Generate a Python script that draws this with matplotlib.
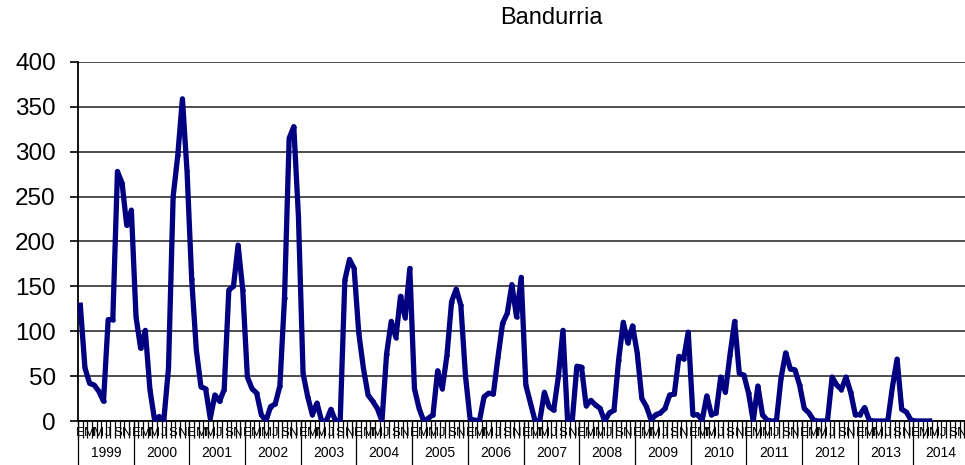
import numpy as np
import matplotlib
matplotlib.use('Agg')
import matplotlib.pyplot as plt
import matplotlib.transforms as mtransforms

plt.rcParams['font.family'] = ['Liberation Sans', 'DejaVu Sans']

years = list(range(1999, 2015))
month_letters = ['E', 'F', 'M', 'A', 'M', 'J', 'J', 'A', 'S', 'O', 'N', 'D']

# monthly counts
y1999 = [129, 59, 42, 40, 33, 22, 113, 113, 278, 265, 218, 235]
y2000 = [116, 81, 101, 35, 1, 5, 1, 59, 250, 296, 359, 278]
y2001 = [158, 79, 38, 36, 3, 29, 22, 35, 146, 150, 196, 146]
y2002 = [49, 36, 31, 7, 0, 16, 19, 39, 137, 315, 328, 228]
y2003 = [53, 27, 7, 20, 0, 0, 13, 0, 0, 157, 180, 170]
y2004 = [98, 59, 29, 22, 14, 0, 75, 111, 93, 139, 115, 170]
y2005 = [36, 14, 0, 3, 7, 56, 36, 73, 133, 147, 129, 50]
y2006 = [2, 1, 0, 27, 31, 30, 71, 109, 120, 152, 116, 160]
y2007 = [40, 20, 0, 0, 32, 16, 12, 49, 101, 0, 0, 61]
y2008 = [60, 17, 23, 18, 14, 0, 9, 12, 68, 110, 87, 106]
y2009 = [76, 25, 16, 1, 7, 9, 14, 29, 30, 72, 69, 99]
y2010 = [7, 7, 1, 28, 7, 9, 49, 32, 74, 111, 53, 51]
y2011 = [31, 0, 39, 7, 1, 0, 0, 48, 76, 58, 57, 40]
y2012 = [14, 9, 1, 0, 0, 0, 49, 40, 35, 49, 32, 7]
y2013 = [7, 15, 1, 0, 0, 0, 0, 38, 69, 13, 10, 1]
y2014 = [0, 0, 0, 0]

values = (y1999 + y2000 + y2001 + y2002 + y2003 + y2004 + y2005 + y2006 +
          y2007 + y2008 + y2009 + y2010 + y2011 + y2012 + y2013 + y2014)
n_months = 12 * len(years)
x = np.arange(len(values)) + 0.5

fig = plt.figure(figsize=(9.65, 4.65), dpi=100)
ax = fig.add_axes([78 / 965, 44 / 465, (969 - 78) / 965, 359 / 465])

ax.plot(x, values, color='#000080', lw=3.8, marker='o', ms=2.2,
        mfc='#000080', mec='#000080', solid_joinstyle='round', zorder=3)

ax.set_xlim(0, n_months)
ax.set_ylim(0, 400)
ax.set_yticks(np.arange(0, 401, 50))
ax.tick_params(axis='y', labelsize=17.5, length=6, width=1.2, direction='out', pad=10)
ax.yaxis.grid(True, color='#404040', lw=1.3)
ax.set_axisbelow(True)

for side in ('top', 'right'):
    ax.spines[side].set_visible(False)
ax.spines['left'].set_linewidth(1.3)
ax.spines['bottom'].set_linewidth(1.3)

# month tick marks between categories, letters on every other month
ax.set_xticks(np.arange(0, n_months + 1), minor=True)
ax.tick_params(axis='x', which='minor', length=12, width=0.9, direction='out')
lab_pos = [i + 0.5 for i in range(n_months) if i % 2 == 0]
lab_txt = [month_letters[i % 12] for i in range(n_months) if i % 2 == 0]
ax.set_xticks(lab_pos)
ax.set_xticklabels(lab_txt, fontsize=9.5)
ax.tick_params(axis='x', which='major', length=0, pad=4)

# year separators and labels
trans = mtransforms.blended_transform_factory(ax.transData, ax.transAxes)
for k in range(len(years) + 1):
    ax.plot([12 * k, 12 * k], [0, -0.125], color='black', lw=0.9,
            transform=trans, clip_on=False)
for k, yr in enumerate(years):
    ax.text(12 * k + 6, -0.09, str(yr), transform=trans, ha='center',
            va='center', fontsize=10)

fig.text(551 / 965, 1 - 18 / 465, 'Bandurria', ha='center', va='center',
         fontsize=17)

fig.savefig('out.png', dpi=100)
